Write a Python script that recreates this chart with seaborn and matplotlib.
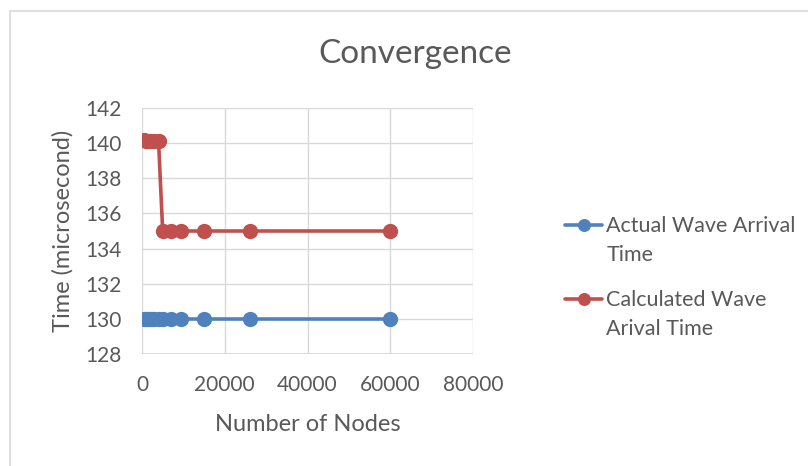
import matplotlib
matplotlib.use("Agg")
import matplotlib.pyplot as plt
import seaborn as sns
import pandas as pd
from matplotlib.patches import Rectangle

# values
nodes_actual = [500, 1000, 1500, 2000, 2500, 3000, 4000, 5000, 7000, 9500, 15000, 26000, 60000]
time_actual = [130, 130, 130, 130, 130, 130, 130, 130, 130, 130, 130, 130, 130]
nodes_calc = [500, 1000, 1500, 2000, 3000, 4000, 5000, 7000, 9500, 15000, 26000, 60000]
time_calc = [140.2, 140.1, 140.1, 140.1, 140.1, 140.1, 135, 135, 135, 135, 135, 135]
x_ticks = [0, 20000, 40000, 60000, 80000]
y_ticks = [128, 130, 132, 134, 136, 138, 140, 142]
# legend names, wrapped the way the chart shows them
names = [('Actual Wave Arrival', 'Time'), ('Calculated Wave', 'Arival Time')]

sns.set_theme(style="white")
plt.rcParams['font.family'] = ['Lato', 'DejaVu Sans']

grey = '#595959'
fig = plt.figure(figsize=(8.08, 4.66), dpi=100)
ax = fig.add_axes([142 / 808, 1 - 354 / 466, (473 - 142) / 808, (354 - 108) / 466])

df_a = pd.DataFrame({'x': nodes_actual, 'y': time_actual})
df_c = pd.DataFrame({'x': nodes_calc, 'y': time_calc})
sns.lineplot(data=df_a, x='x', y='y', ax=ax, color='#4F81BD', marker='o',
             markersize=11, markeredgewidth=0, linewidth=2.6, sort=False,
             label=names[0][0], zorder=3)
sns.lineplot(data=df_c, x='x', y='y', ax=ax, color='#C0504D', marker='o',
             markersize=11, markeredgewidth=0, linewidth=2.6, sort=False,
             label=names[1][0], zorder=3)

ax.set_xlim(0, 80000)
ax.set_ylim(128, 142)
ax.set_xticks(x_ticks)
ax.set_yticks(y_ticks)
ax.tick_params(axis='both', labelsize=15, colors=grey, length=0)
ax.tick_params(axis='x', pad=15)
ax.tick_params(axis='y', pad=15)
ax.grid(True, color='#d9d9d9', linewidth=1)
for s in ax.spines.values():
    s.set_visible(False)
ax.axhline(128, color='#d9d9d9', linewidth=1.2, zorder=1)
ax.set_xlabel('Number of Nodes', fontsize=17, color=grey, labelpad=14)
ax.set_ylabel('Time (microsecond)', fontsize=17, color=grey, labelpad=8)

fig.text(415 / 808, 1 - 63 / 466, 'Convergence', fontsize=24, color=grey,
         ha='center', va='baseline')

leg = ax.legend(loc='upper left', bbox_to_anchor=(546 / 808, 1 - 197 / 466),
                bbox_transform=fig.transFigure, frameon=False, fontsize=15.5,
                handlelength=1.7, labelspacing=2.5, handletextpad=0.2,
                markerscale=0.85)
for t, (first, second) in zip(leg.get_texts(), names):
    t.set_color(grey)
    # second line of the wrapped name sits under the first
    ax.annotate(second, xy=(0, 0), xycoords=t, xytext=(0, -6),
                textcoords='offset points', ha='left', va='top',
                fontsize=15.5, color=grey, annotation_clip=False, zorder=10)

fig.patches.append(Rectangle((10 / 808, -0.1), 1.2, 1 - 11 / 466 + 0.1,
                             transform=fig.transFigure, fill=False,
                             edgecolor='#d9d9d9', linewidth=1.2))

fig.savefig('out.png', dpi=100)
